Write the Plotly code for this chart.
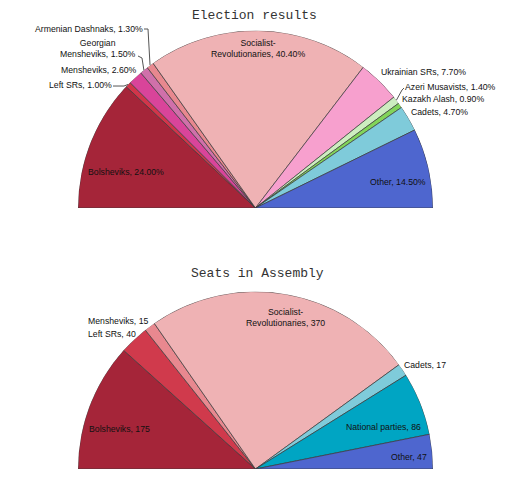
import numpy as np
import plotly.graph_objects as go

# Election results (share of vote, %)
vote_parties = ['Bolsheviks', 'Left SRs', 'Mensheviks', 'Georgian Mensheviks',
                'Armenian Dashnaks', 'Socialist-Revolutionaries', 'Ukrainian SRs',
                'Azeri Musavists', 'Kazakh Alash', 'Cadets', 'Other']
vote_labels = ['Bolsheviks', 'Left SRs', 'Mensheviks', 'Georgian<br>Mensheviks',
               'Armenian Dashnaks', 'Socialist-<br>Revolutionaries', 'Ukrainian SRs',
               'Azeri Musavists', 'Kazakh Alash', 'Cadets', 'Other']
vote_share = [24.0, 1.0, 2.6, 1.5, 1.3, 40.4, 7.7, 1.4, 0.9, 4.7, 14.5]
vote_colors = ['#A52539', '#D2354A', '#D9449A', '#D070AA', '#E8888F', '#EFB2B4',
               '#F7A0CE', '#CDEDC0', '#82D45A', '#7FCBDA', '#4E66CF']

# Seats in the Constituent Assembly
seat_parties = ['Bolsheviks', 'Left SRs', 'Mensheviks', 'Socialist-Revolutionaries',
                'Cadets', 'National parties', 'Other']
seat_labels = ['Bolsheviks', 'Left SRs', 'Mensheviks', 'Socialist-<br>Revolutionaries',
               'Cadets', 'National parties', 'Other']
seat_counts = [175, 40, 15, 370, 17, 86, 47]
seat_colors = ['#A52539', '#D03A4C', '#E8888F', '#EFB2B4', '#7FCBDA', '#00A5C3', '#4E66CF']

# the page body has an 8px margin, so the figure is a bit smaller than the window
OFF = 8
W, H = 505 - OFF, 480 - OFF
LABEL_FONT = dict(family='Liberation Sans', size=8.7, color='#111111')
TITLE_FONT = dict(family='Liberation Mono', size=13, color='#333333')
PAD = 2  # annotation box padding, in px

# half-disc geometry in window pixels (center x, center y, radius)
top_geo = (255.5, 208, 177.5)
bot_geo = (255.5, 469, 177.5)


def half_angles(values):
    v = np.array(values, dtype=float)
    width = v / v.sum() * 180
    mid = np.cumsum(width) - width / 2
    return mid, width


def arc_point(theta, geo):
    cx, cy, r = geo
    a = np.radians(180 - theta)
    return cx + r * np.cos(a), cy - r * np.sin(a)


def px(x, y):
    return (x - OFF) / W, 1 - (y - OFF) / H


def domain(geo):
    cx, cy, r = geo
    x0, y0 = px(cx - r, cy)
    x1, y1 = px(cx + r, cy - r)
    return dict(x=[x0, x1], y=[y0, y1])


fig = go.Figure()

for name, parties, values, colors in [('polar', vote_parties, vote_share, vote_colors),
                                      ('polar2', seat_parties, seat_counts, seat_colors)]:
    mid, width = half_angles(values)
    fig.add_trace(go.Barpolar(
        r=[1] * len(values), theta=mid, width=width, base=0,
        marker=dict(color=colors, line=dict(color='#3a3a3a', width=0.7)),
        text=parties, hoverinfo='text', subplot=name, showlegend=False))

polar_common = dict(
    sector=[0, 180], hole=0, bargap=0, bgcolor='rgba(0,0,0,0)',
    radialaxis=dict(visible=False, range=[0, 1]),
    angularaxis=dict(visible=False, rotation=180, direction='clockwise'),
)
fig.update_layout(
    polar=dict(domain=domain(top_geo), **polar_common),
    polar2=dict(domain=domain(bot_geo), **polar_common),
)

annotations = []
shapes = []

# titles
for text, (tx, ty) in [('Election results', (254, 16)), ('Seats in Assembly', (258, 273))]:
    x, y = px(tx, ty)
    annotations.append(dict(text=text, x=x, y=y, xref='paper', yref='paper',
                            xanchor='center', yanchor='middle', showarrow=False,
                            borderpad=0, font=TITLE_FONT))

# label placement: (x, y, xanchor)
vote_pos = [(126, 172, 'center'), (112, 85, 'right'), (137, 70, 'right'),
            (98, 48.5, 'center'), (143, 29, 'right'), (258, 48.5, 'center'),
            (381, 72, 'left'), (405, 87, 'left'), (402, 99, 'left'),
            (411, 112, 'left'), (398, 182, 'center')]
seat_pos = [(119, 429, 'center'), (88, 334, 'left'), (88, 321, 'left'),
            (285, 317, 'center'), (404, 365, 'left'), (383, 427, 'center'),
            (409, 457, 'center')]
shift = {'left': -PAD, 'right': PAD, 'center': 0}

for labels, values, pos, fmt in [(vote_labels, vote_share, vote_pos, '{:.2f}%'),
                                 (seat_labels, seat_counts, seat_pos, '{}')]:
    for lab, v, (lx, ly, anc) in zip(labels, values, pos):
        x, y = px(lx + shift[anc], ly)
        annotations.append(dict(text=lab + ', ' + fmt.format(v), x=x, y=y,
                                xref='paper', yref='paper', xanchor=anc,
                                yanchor='middle', align='center', showarrow=False,
                                font=LABEL_FONT))

# leader lines for the small slices (label end, knee) -> slice edge
vote_mid, _ = half_angles(vote_share)
leaders = {'Armenian Dashnaks': [(144, 29), (148, 29)],
           'Georgian Mensheviks': [(138, 56), (142, 58)],
           'Left SRs': [(113, 86), (124, 86)],
           'Azeri Musavists': [(404, 88), (402, 90)]}
for party, pts in leaders.items():
    i = vote_parties.index(party)
    ex, ey = arc_point(vote_mid[i], top_geo)
    path_pts = pts + [(ex, ey)]
    d = 'M ' + ' L '.join('{:.4f},{:.4f}'.format(*px(a, b)) for a, b in path_pts)
    shapes.append(dict(type='path', path=d, xref='paper', yref='paper',
                       line=dict(color='#555555', width=1)))

fig.update_layout(
    width=W, height=H,
    margin=dict(l=0, r=0, t=0, b=0),
    paper_bgcolor='white',
    annotations=annotations,
    shapes=shapes,
    showlegend=False,
)

fig.write_html("out.html")
